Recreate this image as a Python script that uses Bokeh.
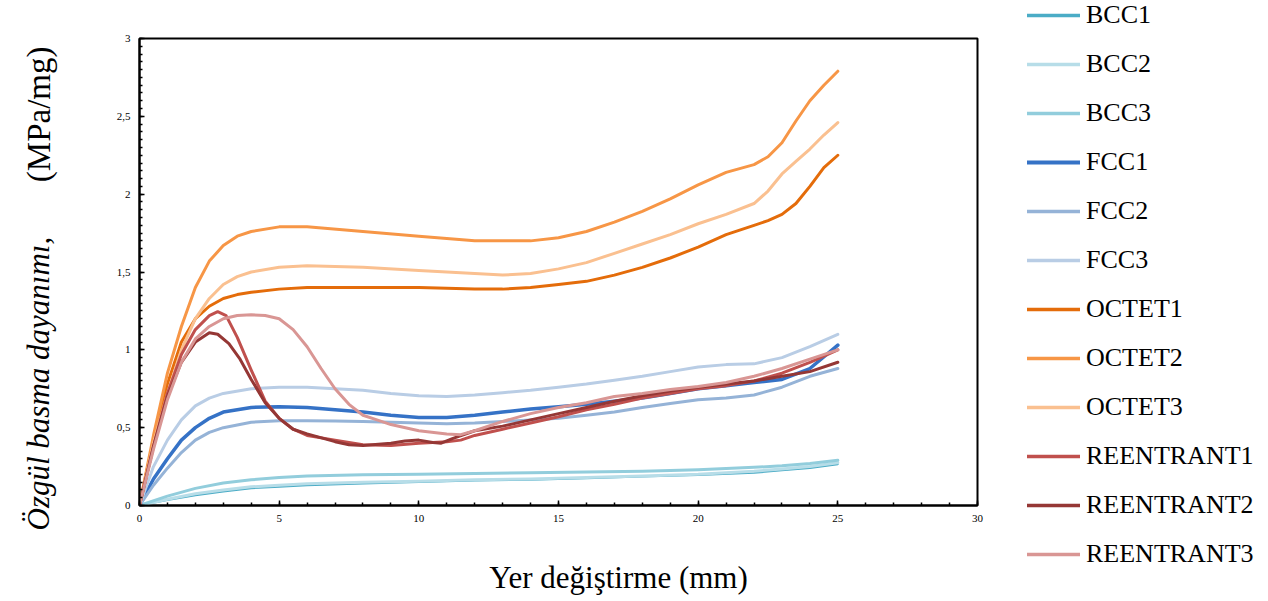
from bokeh.plotting import figure
from bokeh.layouts import row, column
from bokeh.models import Range1d, FixedTicker, Label, Legend, LegendItem
from bokeh.embed import file_html
from bokeh.resources import INLINE
import math

# ---------------- data ----------------
bcc_x = [0, 1, 2, 3, 4, 5, 6, 8, 10, 12, 14, 16, 18, 20, 22, 23, 24, 25]
bcc1_y = [0, 0.035, 0.065, 0.09, 0.11, 0.12, 0.13, 0.14, 0.15, 0.16, 0.165, 0.175, 0.185, 0.195, 0.21, 0.225, 0.24, 0.265]
bcc2_y = [0, 0.04, 0.075, 0.10, 0.12, 0.13, 0.14, 0.15, 0.155, 0.165, 0.17, 0.18, 0.19, 0.20, 0.22, 0.235, 0.25, 0.275]
bcc3_y = [0, 0.06, 0.11, 0.145, 0.165, 0.18, 0.19, 0.197, 0.20, 0.205, 0.21, 0.215, 0.22, 0.23, 0.245, 0.255, 0.27, 0.29]

fcc_x = [0, 0.5, 1, 1.5, 2, 2.5, 3, 4, 5, 6, 7, 8, 9, 10, 11, 12, 13, 14, 15, 16, 17, 18, 19, 20, 21, 22, 23, 24, 25]
fcc1_y = [0, 0.17, 0.30, 0.42, 0.50, 0.56, 0.60, 0.63, 0.635, 0.63, 0.615, 0.60, 0.58, 0.565, 0.565, 0.58, 0.60, 0.62, 0.635, 0.65, 0.67, 0.69, 0.72, 0.75, 0.77, 0.79, 0.81, 0.88, 1.03]
fcc2_y = [0, 0.13, 0.24, 0.34, 0.42, 0.47, 0.50, 0.535, 0.545, 0.545, 0.543, 0.54, 0.535, 0.53, 0.525, 0.53, 0.54, 0.55, 0.56, 0.58, 0.60, 0.63, 0.655, 0.68, 0.69, 0.71, 0.76, 0.83, 0.88]
fcc3_y = [0, 0.25, 0.42, 0.55, 0.64, 0.69, 0.72, 0.75, 0.76, 0.76, 0.75, 0.74, 0.72, 0.705, 0.70, 0.71, 0.725, 0.74, 0.76, 0.78, 0.805, 0.83, 0.86, 0.89, 0.905, 0.91, 0.95, 1.02, 1.10]

oct_x = [0, 0.5, 1, 1.5, 2, 2.5, 3, 3.5, 4, 5, 6, 8, 10, 12, 13, 14, 15, 16, 17, 18, 19, 20, 21, 22, 22.5, 23, 23.5, 24, 24.5, 25]
oct1_y = [0, 0.42, 0.78, 1.05, 1.20, 1.28, 1.33, 1.355, 1.37, 1.39, 1.40, 1.40, 1.40, 1.39, 1.39, 1.40, 1.42, 1.44, 1.48, 1.53, 1.59, 1.66, 1.74, 1.80, 1.83, 1.87, 1.94, 2.05, 2.17, 2.25]
oct2_y = [0, 0.45, 0.85, 1.15, 1.40, 1.57, 1.67, 1.73, 1.76, 1.79, 1.79, 1.76, 1.73, 1.70, 1.70, 1.70, 1.72, 1.76, 1.82, 1.89, 1.97, 2.06, 2.14, 2.19, 2.24, 2.33, 2.47, 2.60, 2.70, 2.79]
oct3_y = [0, 0.40, 0.72, 1.00, 1.20, 1.33, 1.42, 1.47, 1.50, 1.53, 1.54, 1.53, 1.51, 1.49, 1.48, 1.49, 1.52, 1.56, 1.62, 1.68, 1.74, 1.81, 1.87, 1.94, 2.02, 2.13, 2.21, 2.29, 2.38, 2.46]

re1_x = [0, 0.5, 1, 1.5, 2, 2.5, 2.8, 3.1, 3.5, 4, 4.5, 5, 5.5, 6, 7, 8, 9, 10, 11, 11.5, 12, 13, 14, 15, 16, 17, 18, 19, 20, 21, 22, 23, 24, 25]
re1_y = [0, 0.38, 0.72, 0.97, 1.13, 1.22, 1.245, 1.22, 1.08, 0.87, 0.67, 0.56, 0.49, 0.45, 0.42, 0.39, 0.385, 0.40, 0.41, 0.42, 0.45, 0.49, 0.53, 0.57, 0.615, 0.65, 0.69, 0.72, 0.75, 0.77, 0.80, 0.85, 0.92, 1.00]
re2_x = [0, 0.5, 1, 1.5, 2, 2.5, 2.8, 3.2, 3.6, 4, 4.5, 5, 5.5, 6, 7, 7.5, 8, 9, 9.5, 10, 10.5, 10.8, 11.2, 12, 13, 14, 15, 16, 17, 18, 19, 20, 21, 22, 23, 24, 25]
re2_y = [0, 0.38, 0.70, 0.92, 1.05, 1.11, 1.10, 1.04, 0.94, 0.81, 0.66, 0.56, 0.49, 0.46, 0.41, 0.39, 0.385, 0.40, 0.415, 0.42, 0.405, 0.40, 0.43, 0.48, 0.51, 0.55, 0.59, 0.63, 0.67, 0.705, 0.735, 0.76, 0.78, 0.80, 0.83, 0.86, 0.92]
re3_x = [0, 0.5, 1, 1.5, 2, 2.5, 3, 3.5, 4, 4.5, 5, 5.5, 6, 6.5, 7, 7.5, 8, 8.5, 9, 10, 11, 11.5, 12, 13, 14, 15, 16, 17, 18, 19, 20, 21, 22, 23, 24, 25]
re3_y = [0, 0.36, 0.68, 0.92, 1.07, 1.15, 1.20, 1.22, 1.225, 1.22, 1.20, 1.13, 1.02, 0.88, 0.75, 0.65, 0.58, 0.55, 0.52, 0.48, 0.46, 0.455, 0.48, 0.54, 0.59, 0.63, 0.66, 0.70, 0.72, 0.745, 0.765, 0.79, 0.83, 0.88, 0.94, 1.00]

names = ["BCC1", "BCC2", "BCC3", "FCC1", "FCC2", "FCC3",
         "OCTET1", "OCTET2", "OCTET3", "REENTRANT1", "REENTRANT2", "REENTRANT3"]
colors = ["#4bacc6", "#b7dde8", "#92cddc", "#3572c6", "#95b3d7", "#b9cde5",
          "#e46c0a", "#f79646", "#fac090", "#c0504d", "#953735", "#d99694"]
widths = [1.8, 3, 3, 3.5, 3, 3, 3, 3, 3, 3, 3, 3]

y_ticks = [0, 0.5, 1, 1.5, 2, 2.5, 3]
y_tick_labels = ["0", "0,5", "1", "1,5", "2", "2,5", "3"]
x_ticks = [0, 5, 10, 15, 20, 25, 30]

x_title = "Yer değiştirme (mm)"
y_title_main = "Özgül basma dayanımı,"
y_title_unit = "(MPa/mg)"

series = [(bcc_x, bcc1_y), (bcc_x, bcc2_y), (bcc_x, bcc3_y),
          (fcc_x, fcc1_y), (fcc_x, fcc2_y), (fcc_x, fcc3_y),
          (oct_x, oct1_y), (oct_x, oct2_y), (oct_x, oct3_y),
          (re1_x, re1_y), (re2_x, re2_y), (re3_x, re3_y)]

H = 595


def strip(w, h, x0=0, y0=0):
    f = figure(width=w, height=h, output_backend="svg", toolbar_location=None,
               x_range=Range1d(x0, x0 + w), y_range=Range1d(y0 + h, y0),
               min_border=0, x_axis_type=None, y_axis_type=None)
    f.frame_align = False
    f.outline_line_color = None
    f.grid.visible = False
    return f


# ---------------- left strip: y axis title ----------------
pl = strip(60, H)
pl.add_layout(Label(x=38, y=530, text=y_title_main,
                    text_font="Liberation Serif", text_font_style="italic", text_font_size="31px",
                    angle=math.pi / 2, text_align="left", text_baseline="middle", text_color="black"))
pl.add_layout(Label(x=38, y=46, text=y_title_unit,
                    text_font="Liberation Serif", text_font_size="33px",
                    angle=math.pi / 2, text_align="right", text_baseline="middle", text_color="black"))

# ---------------- main chart ----------------
p = figure(width=940, height=530, output_backend="svg", toolbar_location=None,
           x_range=Range1d(0, 30), y_range=Range1d(0, 3),
           min_border_left=79, min_border_right=23, min_border_top=38, min_border_bottom=25)
p.frame_align = False
p.background_fill_color = "white"
p.border_fill_color = "white"
p.grid.visible = False
p.outline_line_color = "black"
p.outline_line_width = 2

for ax in (p.xaxis[0], p.yaxis[0]):
    ax.axis_line_width = 2
    ax.axis_line_color = "black"
    ax.major_tick_in = 5
    ax.major_tick_out = 0
    ax.minor_tick_in = 3
    ax.minor_tick_out = 0
    ax.major_tick_line_color = "black"
    ax.minor_tick_line_color = "black"
    ax.major_tick_line_width = 1.5
    ax.minor_tick_line_width = 1.5
    ax.major_label_text_font = "Liberation Serif"
    ax.major_label_text_font_size = "11px"
    ax.major_label_text_color = "black"

p.xaxis.ticker = FixedTicker(ticks=x_ticks, minor_ticks=list(range(0, 31)))
p.yaxis.ticker = FixedTicker(ticks=y_ticks, minor_ticks=[i * 0.05 for i in range(61)])
p.yaxis.major_label_overrides = {t: l for t, l in zip(y_ticks, y_tick_labels)}
p.xaxis.major_label_standoff = 9
p.yaxis.major_label_standoff = 9

for (xs, ys), name, col, w in zip(series, names, colors, widths):
    p.line(xs, ys, line_color=col, line_width=w, line_join="round", line_cap="round")

# ---------------- bottom strip: x axis title ----------------
pb = strip(940, H - 530, x0=60, y0=530)
pb.add_layout(Label(x=618, y=577, text=x_title, text_font="Liberation Serif",
                    text_font_size="31px", text_align="center", text_baseline="middle",
                    text_color="black"))

# ---------------- right strip: legend ----------------
pr = figure(width=260, height=H, output_backend="svg", toolbar_location=None,
            x_range=Range1d(0, 260), y_range=Range1d(0, H),
            min_border=0, x_axis_type=None, y_axis_type=None)
pr.frame_align = False
pr.outline_line_color = None
pr.grid.visible = False
items = []
for (xs, ys), name, col, w in zip(series, names, colors, widths):
    r = pr.line(xs, ys, line_color=col, line_width=max(w, 3) + 0.5, line_cap="round", visible=False)
    items.append(LegendItem(label=name, renderers=[r]))
legend = Legend(items=items, location=(27, 26), padding=0, margin=0,
                glyph_width=53, glyph_height=20, label_height=20, label_standoff=6,
                spacing=19, label_text_font="Liberation Serif", label_text_font_size="26px",
                label_text_color="black", border_line_alpha=0, background_fill_alpha=0,
                inactive_fill_alpha=0)
pr.add_layout(legend)

layout = row(pl, column(p, pb), pr)
open("out.html", "w").write(file_html(layout, INLINE))
